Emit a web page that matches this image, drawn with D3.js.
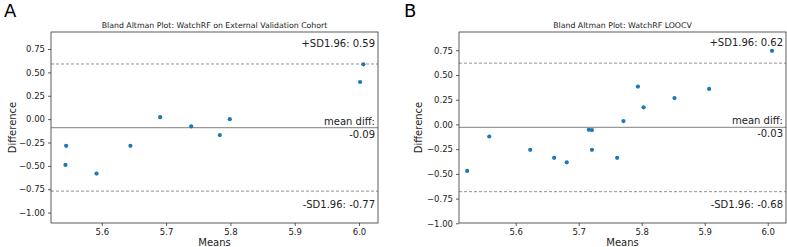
<!DOCTYPE html>
<html><head><meta charset="utf-8">
<script src="https://cdn.jsdelivr.net/npm/d3@7"></script>
<style>body{margin:0;background:#fff}svg{display:block}text{font-family:"DejaVu Sans",sans-serif}</style>
</head><body><svg id="c" width="787" height="247"></svg>
<script>
// Panel A: external validation cohort
const meansA = [6.0067, 6.0016, 5.6907, 5.7990, 5.739, 5.7835, 5.5445, 5.6445, 5.5435, 5.5918];
const diffsA = [0.586, 0.397, 0.021, 0.0, -0.078, -0.171, -0.286, -0.286, -0.49, -0.582];
const statsA = [0.59, -0.09, -0.77]; // +SD, mean, -SD
// Panel B: LOOCV
const meansB = [6.0068, 5.794, 5.803, 5.852, 5.907, 5.771, 5.558, 5.716, 5.721, 5.721, 5.623, 5.661, 5.681, 5.761, 5.523];
const diffsB = [0.745, 0.383, 0.173, 0.267, 0.359, 0.034, -0.122, -0.054, -0.057, -0.257, -0.257, -0.338, -0.383, -0.338, -0.47];
const statsB = [0.62, -0.03, -0.68];
const xTicks = [5.6, 5.7, 5.8, 5.9, 6.0];
const yTicksA = [0.75, 0.5, 0.25, 0, -0.25, -0.5, -0.75, -1.0];
const yTicksB = [0.75, 0.5, 0.25, 0, -0.25, -0.5, -0.75, -1.0];

const svg = d3.select("#c");

function panel(o) {
  const g = svg.append("g");
  const x = d3.scaleLinear().domain(o.xd).range([o.l, o.r]);
  const y = d3.scaleLinear().domain(o.yd).range([o.b, o.t]);
  g.append("text").attr("x", o.letterX).attr("y", 17).attr("font-size", 18).attr("font-family", "Liberation Sans, Arial, sans-serif").text(o.letter);
  g.append("text").attr("x", (o.l + o.r) / 2).attr("y", 28).attr("text-anchor", "middle").attr("font-size", 7.8).attr("fill", "#222").text(o.title);
  const ls = [[o.stats[0], "3,2", "#777"], [o.stats[1], null, "#999"], [o.stats[2], "3,2", "#777"]];
  ls.forEach(([v, dash, col]) => {
    const ln = g.append("line").attr("x1", o.l).attr("x2", o.r).attr("y1", y(v)).attr("y2", y(v))
      .attr("stroke", col).attr("stroke-width", dash ? 0.8 : 1.2);
    if (dash) ln.attr("stroke-dasharray", dash);
  });
  const ax = g.append("g").attr("transform", `translate(0,${o.b})`)
    .call(d3.axisBottom(x).tickValues(xTicks).tickFormat(d3.format(".1f")).tickSize(3).tickSizeOuter(0));
  const ay = g.append("g").attr("transform", `translate(${o.l},0)`)
    .call(d3.axisLeft(y).tickValues(o.yTicks).tickFormat(d => d3.format(".2f")(d).replace("-", "\u2212")).tickSize(3).tickSizeOuter(0));
  [ax, ay].forEach(a => {
    a.select(".domain").remove();
    a.selectAll("text").attr("font-size", 8.5).attr("fill", "#222").attr("font-family", "DejaVu Sans, sans-serif");
    a.selectAll("line").attr("stroke", "#333").attr("stroke-width", 0.8);
  });
  g.append("rect").attr("x", o.l).attr("y", o.t).attr("width", o.r - o.l).attr("height", o.b - o.t)
    .attr("fill", "none").attr("stroke", "#333").attr("stroke-width", 0.8);
  g.selectAll("circle.p").data(o.means).join("circle").attr("class", "p")
    .attr("cx", d => x(d)).attr("cy", (d, i) => y(o.diffs[i])).attr("r", 2.1).attr("fill", "#1f77b4");
  const tx = o.r - 3;
  const ann = (yy, s) => g.append("text").attr("x", tx).attr("y", yy).attr("text-anchor", "end").attr("font-size", 10).attr("fill", "#222").text(s);
  ann(y(o.stats[0]) - 17, "+SD1.96: " + o.stats[0].toFixed(2));
  ann(y(o.stats[1]) - 3, "mean diff:");
  ann(y(o.stats[1]) + 10, o.stats[1].toFixed(2));
  ann(y(o.stats[2]) + 16.5, "-SD1.96: " + o.stats[2].toFixed(2));
  g.append("text").attr("x", (o.l + o.r) / 2).attr("y", 246).attr("text-anchor", "middle").attr("font-size", 10).attr("fill", "#222").text("Means");
  g.append("text").attr("transform", `translate(${o.labX},${(o.t + o.b) / 2}) rotate(-90)`).attr("dy", "0.35em").attr("text-anchor", "middle").attr("font-size", 10).attr("fill", "#222").text("Difference");
}

panel({letter: "A", letterX: 4, labX: 12, title: "Bland Altman Plot: WatchRF on External Validation Cohort",
  l: 51, r: 378, t: 32, b: 223, xd: [5.521, 6.0295], yd: [-1.111, 0.932],
  means: meansA, diffs: diffsA, stats: statsA, yTicks: yTicksA});
panel({letter: "B", letterX: 404, labX: 418, title: "Bland Altman Plot: WatchRF LOOCV",
  l: 459, r: 786, t: 32, b: 223, xd: [5.51, 6.029], yd: [-0.997, 0.935],
  means: meansB, diffs: diffsB, stats: statsB, yTicks: yTicksB});
</script></body></html>
